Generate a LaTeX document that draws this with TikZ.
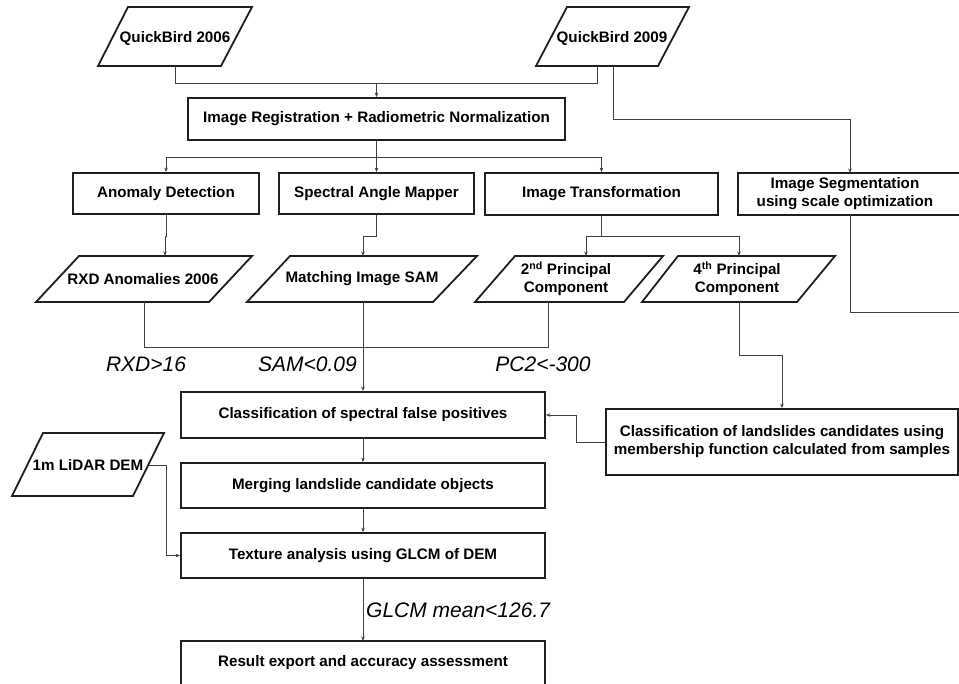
\documentclass[tikz,border=0pt]{standalone}
\usepackage{fontspec}
\setmainfont{Liberation Sans}
\usetikzlibrary{arrows.meta}
\begin{document}
\begin{tikzpicture}[x=1pt,y=-1pt,
  boxline/.style={draw=black!88,line width=1.8pt},
  box/.style={boxline,rectangle,inner sep=0pt,font=\fontsize{15.2}{18}\selectfont\bfseries,align=center},
  para/.style={boxline,line join=miter},
  txt/.style={inner sep=0pt,font=\fontsize{15.2}{18}\selectfont\bfseries,align=center},
  conn/.style={draw=black!75,line width=0.8pt},
  arr/.style={conn,-{Stealth[length=4.5pt,width=3.5pt]}},
  cond/.style={inner sep=0pt,font=\fontsize{21}{24}\selectfont\itshape}]
\useasboundingbox (0,0) rectangle (959,684);
% --- input parallelograms
\draw[para] (128,7) -- (252,7) -- (221,66) -- (98,66) -- cycle;
\node[txt] (qb6) at (175,38) {QuickBird 2006};
\draw[para] (567,7) -- (689,7) -- (658,66) -- (536,66) -- cycle;
\node[txt] (qb9) at (612,38) {QuickBird 2009};
\coordinate (qb6b) at (175,66);
\coordinate (qb9b) at (597,66);
\coordinate (qb9c) at (613,66);
% --- boxes
\node[box,minimum width=377,minimum height=42] (reg) at (376.5,119) {Image Registration + Radiometric Normalization};
\node[box,minimum width=186,minimum height=41] (anom) at (166,193.5) {Anomaly Detection};
\node[box,minimum width=195,minimum height=41] (sam) at (376.5,193.5) {Spectral Angle Mapper};
\node[box,minimum width=233,minimum height=42] (trans) at (601.5,194) {Image Transformation};
\draw[boxline] (738,173) rectangle (985,215);
\node[txt] (seg) at (845,194) {Image Segmentation\\using scale optimization};
\coordinate (segtop) at (850,173);
\coordinate (segbot) at (850,215);
\coordinate (segout) at (985,312);
% --- second-level parallelograms
\draw[para] (79,256) -- (252,256) -- (209,302) -- (36,302) -- cycle;
\node[txt] (rxd) at (143,279) {RXD Anomalies 2006};
\draw[para] (290,256) -- (477,256) -- (433,302) -- (247,302) -- cycle;
\node[txt] (mat) at (362,279) {Matching Image SAM};
\draw[para] (515,256) -- (663,256) -- (624,302) -- (475,302) -- cycle;
\node[txt] (pc2) at (566,279) {2\textsuperscript{nd} Principal\\Component};
\draw[para] (678,256) -- (835,256) -- (797,302) -- (642,302) -- cycle;
\node[txt] (pc4) at (737,279) {4\textsuperscript{th} Principal\\Component};
\coordinate (rxdt) at (165,256);
\coordinate (rxdb) at (144,302);
\coordinate (matt) at (363,256);
\coordinate (matb) at (363,302);
\coordinate (pc2t) at (586,256);
\coordinate (pc2b) at (548,302);
\coordinate (pc4t) at (739,256);
\coordinate (pc4b) at (739,302);
% --- lower boxes
\node[box,minimum width=364,minimum height=46] (cls) at (363,415) {Classification of spectral false positives};
\node[box,minimum width=352,minimum height=66] (land) at (782,442) {Classification of landslides candidates using\\membership function calculated from samples};
\node[box,minimum width=364,minimum height=45] (merge) at (363,485.5) {Merging landslide candidate objects};
\node[box,minimum width=364,minimum height=45] (tex) at (363,555.5) {Texture analysis using GLCM of DEM};
\draw[boxline] (181,700) -- (181,641) -- (545,641) -- (545,700);
\node[txt] (res) at (363,663) {Result export and accuracy assessment};
\coordinate (rest) at (363,641);
\draw[para] (43,433) -- (164,433) -- (133,496) -- (12,496) -- cycle;
\node[txt] (lidar) at (88,465) {1m LiDAR DEM};
\coordinate (lidarr) at (148,465);
% --- condition labels
\node[cond] (c1) at (146,364) {RXD>16};
\node[cond,anchor=east] (c2) at (357,364) {SAM<0.09};
\node[cond] (c3) at (543,364) {PC2<-300};
\node[cond,anchor=west] (c4) at (366,610) {GLCM mean<126.7};
% --- connectors
\draw[conn] (qb6b) -- (175,83) -| (qb9b);
\draw[arr] (reg.north |- 0,83) -- (reg.north);
\draw[arr] (qb9c) -- (613,119) -| (segtop);
\draw[conn] (reg.south) -- (376.5,157) coordinate (j1);
\draw[arr] (j1) -| (anom.north);
\draw[arr] (j1) -- (sam.north);
\draw[arr] (j1) -| (trans.north);
\draw[arr] (anom.south) -- (166,236) -| (rxdt);
\draw[arr] (sam.south) -- (376.5,236) -| (matt);
\draw[conn] (trans.south) -- (601.5,236) coordinate (j2);
\draw[arr] (j2) -| (pc2t);
\draw[arr] (j2) -| (pc4t);
\draw[conn] (segbot) |- (segout);
\draw[conn] (rxdb) -- (144,347) -| (pc2b);
\draw[arr] (matb) -- (cls.north);
\draw[arr] (pc4b) -- (739,355) -| (land.north);
\draw[arr] (land.west) -- (576,442) |- (cls.east);
\draw[arr] (cls.south) -- (merge.north);
\draw[arr] (merge.south) -- (tex.north);
\draw[arr] (tex.south) -- (rest);
\draw[arr] (lidarr) -- (166,465) |- (tex.west);
\end{tikzpicture}
\end{document}
